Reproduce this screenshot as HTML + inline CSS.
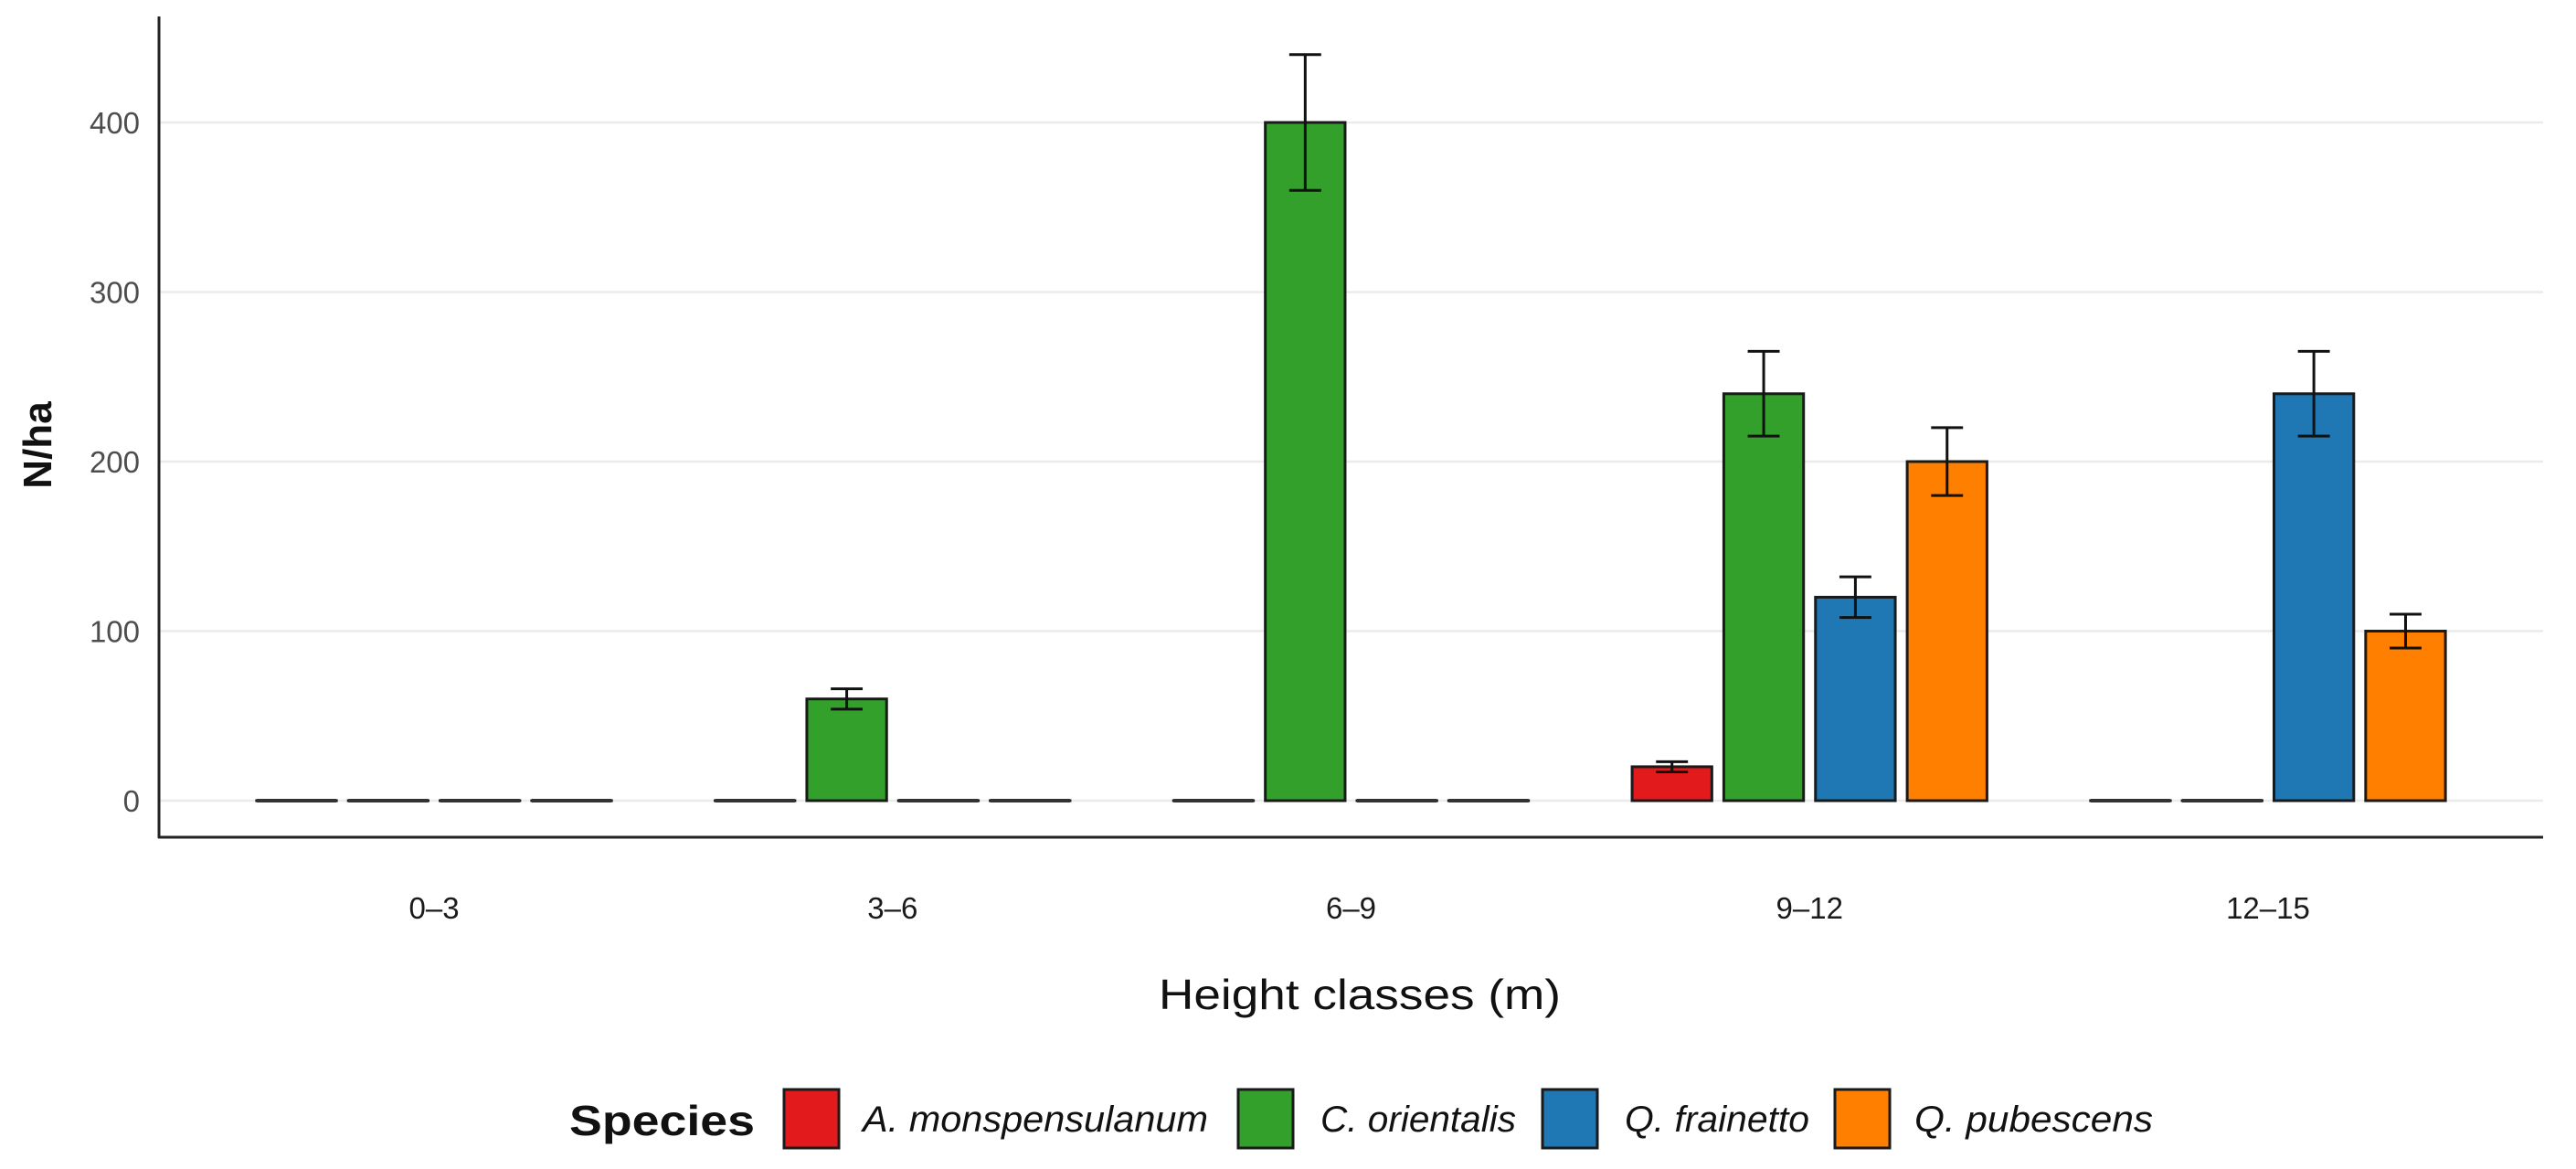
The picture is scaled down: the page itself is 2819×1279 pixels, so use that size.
<!DOCTYPE html>
<html><head><meta charset="utf-8"><style>
html,body{margin:0;padding:0;background:#fff}
svg{display:block}
text{font-family:"Liberation Sans",Arial,sans-serif}
</style></head><body>
<svg id="chart" width="2819" height="1279" viewBox="0 0 2819 1279" xmlns="http://www.w3.org/2000/svg">
<g id="grid"></g>
<g id="bars"></g>
<g id="axes"></g>
<g id="legend"></g>
</svg>
<script>
const categories = ["0–3","3–6","6–9","9–12","12–15"];
const species = ["A. monspensulanum","C. orientalis","Q. frainetto","Q. pubescens"];
const colors = ["#e31a1c","#33a02c","#1f78b4","#ff7f00"];
const valuesAmon = [0,0,0,20,0];
const valuesCori = [0,60,400,240,0];
const valuesQfra = [0,0,0,120,240];
const valuesQpub = [0,0,0,200,100];
const errAmon = [0,0,0,3,0];
const errCori = [0,6,40,25,0];
const errQfra = [0,0,0,12,25];
const errQpub = [0,0,0,20,10];
const yTicks = [0,100,200,300,400];

const series = [valuesAmon,valuesCori,valuesQfra,valuesQpub];
const errs = [errAmon,errCori,errQfra,errQpub];
const NS="http://www.w3.org/2000/svg";
const X0=174, X1=2783, UNIT=(X1-X0)/5.2;
const Y0=876, PX100=185.5;
function xCat(i){return X0+(0.6+i)*UNIT;}
function yVal(v){return Y0-v*PX100/100;}
function mk(tag,attrs,parent){const e=document.createElementNS(NS,tag);for(const k in attrs)e.setAttribute(k,attrs[k]);parent.appendChild(e);return e;}
const grid=document.getElementById('grid'),bars=document.getElementById('bars'),axes=document.getElementById('axes'),legend=document.getElementById('legend');

yTicks.forEach(t=>{
  const l=mk('line',{x1:X0,x2:X1,y1:yVal(t),y2:yVal(t),stroke:'#ebebeb','stroke-width':2.5},grid);
  
  
  const tx=mk('text',{x:153,y:yVal(t)+12,'text-anchor':'end','font-size':33,fill:'#4d4d4d'},axes);
  tx.textContent=t;
  
  
});

const slot=0.2*UNIT, bw=0.174*UNIT;
categories.forEach((c,i)=>{
  const cx=xCat(i);
  series.forEach((vals,s)=>{
    const xc=cx+(s-1.5)*slot;
    const v=vals[i];
    const r=mk('rect',{x:xc-bw/2,y:yVal(v),width:bw,height:Math.max(Y0-yVal(v),0.01),fill:colors[s],stroke:'#1a1a1a','stroke-width':3},bars);
    
    
    if(v===0){mk('line',{x1:xc-bw/2,x2:xc+bw/2,y1:Y0,y2:Y0,stroke:'#333','stroke-width':4},bars);}
    const e=errs[s][i];
    if(v>0&&e>0){
      const g=mk('g',{stroke:'#111','stroke-width':3,fill:'none'},bars);
      
      
      const hw=bw*0.2;
      mk('line',{x1:xc,x2:xc,y1:yVal(v+e),y2:yVal(v-e)},g);
      mk('line',{x1:xc-hw,x2:xc+hw,y1:yVal(v+e),y2:yVal(v+e)},g);
      mk('line',{x1:xc-hw,x2:xc+hw,y1:yVal(v-e),y2:yVal(v-e)},g);
    }
  });
  const tl=mk('text',{x:cx,y:1005,'text-anchor':'middle','font-size':33,fill:'#1a1a1a'},axes);
  tl.textContent=c;
  
  
});

const ya=mk('line',{x1:X0,x2:X0,y1:18,y2:917,stroke:'#222','stroke-width':3},axes);


const xa=mk('line',{x1:X0-1,x2:X1,y1:916,y2:916,stroke:'#222','stroke-width':3},axes);


const xt=mk('text',{x:1488,y:1104,'text-anchor':'middle','font-size':46,fill:'#111',textLength:440,lengthAdjust:'spacingAndGlyphs'},axes);
xt.textContent='Height classes (m)';


const yt=mk('text',{x:56,y:487,'text-anchor':'middle','font-size':44,'font-weight':'bold',fill:'#111',transform:'rotate(-90 56 487)'},axes);
yt.textContent='N/ha';



const lt=mk('text',{x:623,y:1242,'font-size':46,'font-weight':'bold',fill:'#111',textLength:203,lengthAdjust:'spacingAndGlyphs'},legend);
lt.textContent='Species';


const keyX=[858,1355,1688,2008];
const labX=[944,1445,1778,2095];
const labW=[378,214,202,261];
species.forEach((sp,s)=>{
  const k=mk('rect',{x:keyX[s],y:1192,width:60,height:64,fill:colors[s],stroke:'#1a1a1a','stroke-width':3},legend);
  
  
  const t=mk('text',{x:labX[s],y:1238,'font-size':40,'font-style':'italic',fill:'#111',textLength:labW[s],lengthAdjust:'spacingAndGlyphs'},legend);
  t.textContent=sp;
  
  
});
</script>
</body></html>
